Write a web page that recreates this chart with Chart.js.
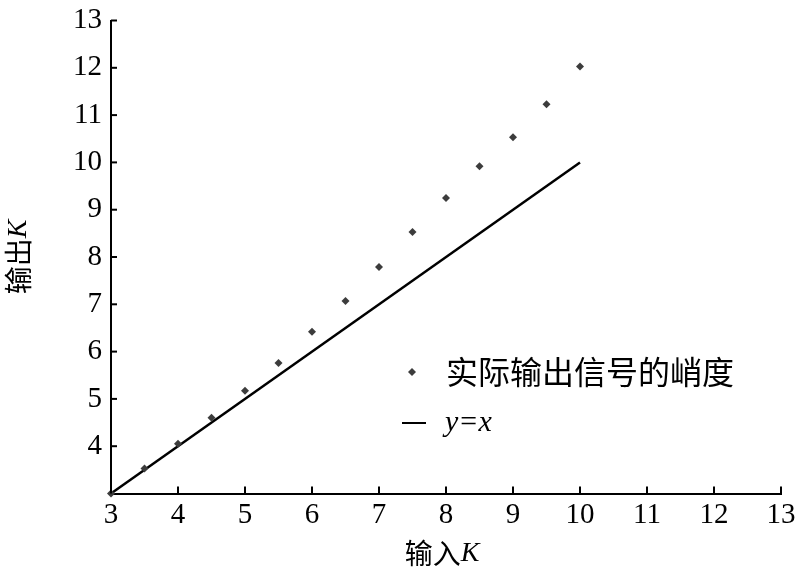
<!DOCTYPE html>
<html>
<head>
<meta charset="utf-8">
<script src="https://cdn.jsdelivr.net/npm/chart.js@4.4.0/dist/chart.umd.min.js"></script>
<style>
html,body{margin:0;padding:0;background:#fff;}
#wrap{width:800px;height:581px;}
</style>
</head>
<body>
<div id="wrap"><canvas id="c" width="800" height="581"></canvas></div>
<script>
const inputK = [3, 3.5, 4, 4.5, 5, 5.5, 6, 6.5, 7, 7.5, 8, 8.5, 9, 9.5, 10];
const measuredK = [3.0, 3.53, 4.05, 4.6, 5.17, 5.76, 6.42, 7.07, 7.79, 8.53, 9.25, 9.92, 10.53, 11.23, 12.03];
const refLineX = [3, 10];
const refLineY = [3, 10];
const xTickValues = [3, 4, 5, 6, 7, 8, 9, 10, 11, 12, 13];
const yTickValues = [4, 5, 6, 7, 8, 9, 10, 11, 12, 13];
const seriesLabels = ['实际输出信号的峭度', 'y=x'];
const xTitle = ['输入', 'K'];
const yTitle = ['输出', 'K'];

const SERIF = '"Liberation Serif", "Times New Roman", "Noto Sans CJK SC", serif';
const CJK = '"Noto Sans CJK SC", "Liberation Serif", serif';

const scatterData = inputK.map((x, i) => ({x: x, y: measuredK[i]}));
const lineData = refLineX.map((x, i) => ({x: x, y: refLineY[i]}));

const decor = {
  id: 'decor',
  afterDraw(chart) {
    const ctx = chart.ctx;
    const xs = chart.scales.x, ys = chart.scales.y;
    ctx.save();
    ctx.strokeStyle = '#000';
    ctx.lineWidth = 2;
    xTickValues.forEach(v => {
      const px = xs.getPixelForValue(v);
      ctx.beginPath(); ctx.moveTo(px, ys.bottom); ctx.lineTo(px, ys.bottom - 7); ctx.stroke();
    });
    yTickValues.forEach(v => {
      const py = ys.getPixelForValue(v);
      ctx.beginPath(); ctx.moveTo(xs.left, py); ctx.lineTo(xs.left + 6, py); ctx.stroke();
    });
    ctx.fillStyle = '#000';
    ctx.textBaseline = 'middle';
    const drawTitle = (parts, cx, cy) => {
      ctx.font = '28px ' + CJK;
      const w1 = ctx.measureText(parts[0]).width;
      ctx.font = 'italic 28px ' + SERIF;
      const w2 = ctx.measureText(parts[1]).width;
      let x0 = cx - (w1 + w2) / 2;
      ctx.textAlign = 'left';
      ctx.font = '28px ' + CJK;
      ctx.fillText(parts[0], x0, cy);
      ctx.font = 'italic 28px ' + SERIF;
      ctx.fillText(parts[1], x0 + w1, cy + 1);
    };
    drawTitle(xTitle, (xs.left + xs.right) / 2 - 4, 553);
    ctx.save();
    ctx.translate(18, (ys.top + ys.bottom) / 2);
    ctx.rotate(-Math.PI / 2);
    drawTitle(yTitle, 0, 0);
    ctx.restore();
    const ds0 = chart.data.datasets[0];
    const lx = 412, ly1 = 372, ly2 = 423;
    ctx.fillStyle = ds0.backgroundColor;
    ctx.beginPath();
    ctx.moveTo(lx, ly1 - 4); ctx.lineTo(lx + 4, ly1); ctx.lineTo(lx, ly1 + 4); ctx.lineTo(lx - 4, ly1); ctx.closePath(); ctx.fill();
    ctx.fillStyle = '#000';
    ctx.font = '32px ' + CJK;
    ctx.textAlign = 'left';
    ctx.fillText(seriesLabels[0], 446, ly1);
    ctx.strokeStyle = '#000';
    ctx.lineWidth = 2;
    ctx.beginPath(); ctx.moveTo(402, ly2); ctx.lineTo(426, ly2); ctx.stroke();
    ctx.font = 'italic 30px ' + SERIF;
    ctx.fillText(seriesLabels[1], 445, ly2);
    ctx.restore();
  }
};

new Chart(document.getElementById('c'), {
  type: 'scatter',
  data: {
    datasets: [
      {
        label: seriesLabels[0],
        data: scatterData,
        pointStyle: 'rectRot',
        pointRadius: 4,
        pointHoverRadius: 4,
        backgroundColor: '#3c3c3c',
        borderColor: '#3c3c3c',
        borderWidth: 0,
        showLine: false,
        clip: false
      },
      {
        label: seriesLabels[1],
        data: lineData,
        showLine: true,
        borderColor: '#000',
        borderWidth: 2.5,
        pointRadius: 0,
        fill: false,
        clip: false
      }
    ]
  },
  options: {
    responsive: false,
    animation: false,
    devicePixelRatio: 1,
    layout: {padding: {left: 0, right: 19, top: 20.5, bottom: 0}},
    plugins: {legend: {display: false}, tooltip: {enabled: false}, title: {display: false}},
    scales: {
      x: {
        type: 'linear', min: 3, max: 13,
        afterFit: s => { s.height = 87.5; s.paddingLeft = 0; s.paddingRight = 0; },
        afterBuildTicks: s => { s.ticks = xTickValues.map(v => ({value: v})); },
        grid: {display: true, drawOnChartArea: false, drawTicks: false},
        border: {display: true, color: '#000', width: 2},
        ticks: {color: '#000', padding: 4, maxRotation: 0, autoSkip: false,
          font: {family: SERIF, size: 29}}
      },
      y: {
        type: 'linear', min: 3, max: 13,
        afterFit: s => { s.width = 111; s.paddingTop = 0; s.paddingBottom = 0; },
        afterBuildTicks: s => { s.ticks = yTickValues.map(v => ({value: v})); },
        grid: {display: true, drawOnChartArea: false, drawTicks: false},
        border: {display: true, color: '#000', width: 2},
        ticks: {color: '#000', padding: 9, autoSkip: false,
          font: {family: SERIF, size: 29}}
      }
    }
  },
  plugins: [decor]
});
</script>
</body>
</html>
